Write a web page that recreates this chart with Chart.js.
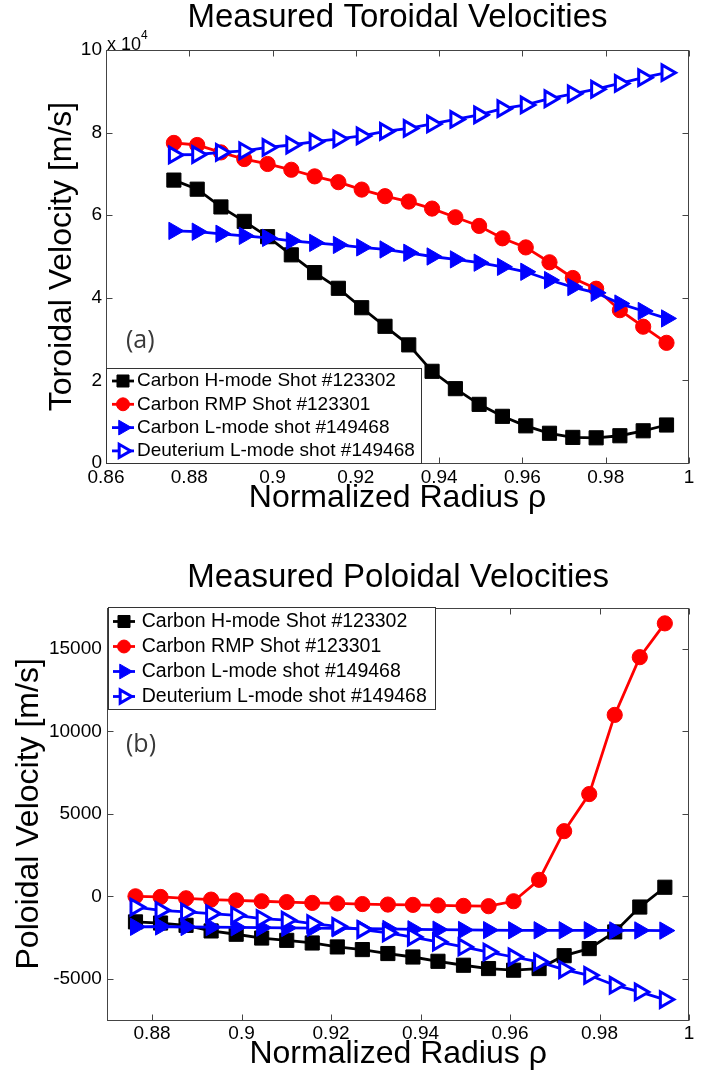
<!DOCTYPE html>
<html>
<head>
<meta charset="utf-8">
<title>Measured Toroidal and Poloidal Velocities</title>
<script src="https://cdn.jsdelivr.net/npm/chart.js@4.4.0/dist/chart.umd.min.js"></script>
<style>
  body { margin: 0; background: #fff; width: 701px; height: 1076px; overflow: hidden; }
  canvas { display: block; }
</style>
</head>
<body>
<canvas id="chart-toroidal" width="701" height="540"></canvas>
<canvas id="chart-poloidal" width="701" height="536"></canvas>
<script>
// normalized radius of the measurement points (shared by all series)
const radius = [0.8763, 0.8819, 0.8876, 0.8932, 0.8988, 0.9045, 0.9101, 0.9158, 0.9214, 0.9270, 0.9327,
                0.9383, 0.9439, 0.9496, 0.9552, 0.9608, 0.9665, 0.9721, 0.9777, 0.9834, 0.9890, 0.9946];

const seriesNames = ["Carbon H-mode Shot #123302", "Carbon RMP Shot #123301",
                     "Carbon L-mode shot #149468", "Deuterium L-mode shot #149468"];

// toroidal velocity [m/s]
const torCarbonH = [68500, 66300, 62000, 58500, 54800, 50400, 46100, 42300, 37600, 33100, 28600,
                    22200, 18000, 14200, 11300, 9000, 7200, 6200, 6100, 6600, 7800, 9200];
const torCarbonRMP = [77500, 77000, 75200, 73600, 72400, 71000, 69400, 68000, 66200, 64600, 63300,
                      61600, 59500, 57400, 54400, 52200, 48600, 44800, 42200, 37000, 33000, 29100];
const torCarbonL = [56200, 56000, 55500, 55000, 54500, 53800, 53300, 52800, 52200, 51700, 50900,
                    50000, 49300, 48500, 47500, 46300, 44300, 42600, 41200, 38600, 36800, 35000];
const torDeutL = [74600, 74700, 75200, 75600, 76400, 77000, 77800, 78500, 79200, 80300, 81000,
                  82100, 83200, 84300, 85800, 86700, 88200, 89400, 90500, 91900, 93300, 94500];

// poloidal velocity [m/s]
const polCarbonH = [-1550, -1620, -1760, -2100, -2300, -2530, -2670, -2830, -3070, -3230, -3470,
                    -3680, -3940, -4180, -4380, -4480, -4380, -3600, -3170, -2160, -650, 550];
const polCarbonRMP = [0, -40, -120, -200, -250, -300, -350, -400, -430, -470, -500,
                      -520, -550, -580, -600, -300, 1000, 3950, 6200, 11000, 14500, 16550];
const polCarbonL = [-1850, -1830, -1860, -1870, -1880, -1900, -1920, -1930, -1940, -1960, -1980,
                    -2000, -2020, -2040, -2050, -2060, -2060, -2060, -2060, -2070, -2070, -2080];
const polDeutL = [-650, -850, -950, -1050, -1150, -1350, -1450, -1650, -1820, -2020, -2220,
                  -2470, -2770, -3070, -3380, -3680, -3980, -4440, -4790, -5390, -5800, -6260];

// tick values
const torXTicks = [0.86, 0.88, 0.9, 0.92, 0.94, 0.96, 0.98, 1];
const torYTicks = [0, 20000, 40000, 60000, 80000, 100000];
const polXTicks = [0.88, 0.9, 0.92, 0.94, 0.96, 0.98, 1];
const polYTicks = [-5000, 0, 5000, 10000, 15000];

const FONT = "'Liberation Sans', Arial, Helvetica, sans-serif";

function series(label, values, color, style, r, fill, bw, order) {
    return {
        label: label,
        data: values.map((v, i) => ({ x: radius[i], y: v })),
        borderColor: color,
        backgroundColor: fill,
        borderWidth: 2.8,
        pointStyle: style,
        pointRadius: r,
        pointRotation: style === 'triangle' ? 90 : 0,
        pointBackgroundColor: fill,
        pointBorderColor: color,
        pointBorderWidth: bw,
        tension: 0,
        clip: false,
        order: order
    };
}

function makeDatasets(h, rmp, l, d) {
    return [
        series(seriesNames[0], h, '#000000', 'rect', 10, '#000000', 1, 3),
        series(seriesNames[1], rmp, '#ff0000', 'circle', 7.6, '#ff0000', 1, 2),
        series(seriesNames[2], l, '#0000ff', 'triangle', 10, '#0000ff', 1, 1),
        series(seriesNames[3], d, '#0000ff', 'triangle', 9, '#ffffff', 3, 0)
    ];
}

function drawMarker(ctx, ds, x, y, k) {
    const r = ds.pointRadius * k;
    ctx.save();
    ctx.fillStyle = ds.pointBackgroundColor;
    ctx.strokeStyle = ds.pointBorderColor;
    ctx.lineWidth = ds.pointBorderWidth;
    ctx.beginPath();
    if (ds.pointStyle === 'rect') {
        const s = r * Math.SQRT1_2;
        ctx.rect(x - s, y - s, 2 * s, 2 * s);
    } else if (ds.pointStyle === 'circle') {
        ctx.arc(x, y, r, 0, 2 * Math.PI);
    } else {
        ctx.moveTo(x + r, y);
        ctx.lineTo(x - r / 2, y + r * 0.866);
        ctx.lineTo(x - r / 2, y - r * 0.866);
        ctx.closePath();
    }
    ctx.fill();
    ctx.stroke();
    ctx.restore();
}

// matlab style box with inward ticks, boxed legend and free text labels
const matlabLook = {
    id: 'matlabLook',
    afterDatasetsDraw(chart, args, opts) {
        const ctx = chart.ctx;
        const a = chart.chartArea;
        const xs = chart.scales.x, ys = chart.scales.y;
        const L = Math.round(a.left) + 0.5, R = Math.round(a.right) - 0.5;
        const T = Math.round(a.top) + 0.5, B = Math.round(a.bottom) + 0.5;
        ctx.save();
        ctx.strokeStyle = '#444';
        ctx.lineWidth = 1;
        ctx.strokeRect(L, T, R - L, B - T);
        ctx.beginPath();
        xs.ticks.forEach(t => {
            const px = Math.round(xs.getPixelForValue(t.value)) + 0.5;
            ctx.moveTo(px, B); ctx.lineTo(px, B - 6);
            ctx.moveTo(px, T); ctx.lineTo(px, T + 6);
        });
        ys.ticks.forEach(t => {
            const py = Math.round(ys.getPixelForValue(t.value)) + 0.5;
            ctx.moveTo(L, py); ctx.lineTo(L + 6, py);
            ctx.moveTo(R, py); ctx.lineTo(R - 6, py);
        });
        ctx.stroke();

        // legend
        const lg = opts.legend;
        ctx.fillStyle = '#fff';
        ctx.fillRect(lg.x, lg.y, lg.w, lg.h);
        ctx.strokeStyle = '#333';
        ctx.strokeRect(lg.x + 0.5, lg.y + 0.5, lg.w - 1, lg.h - 1);
        ctx.font = lg.fontSize + 'px ' + FONT;
        ctx.textBaseline = 'middle';
        ctx.textAlign = 'left';
        chart.data.datasets.forEach((ds, i) => {
            const cy = lg.y + lg.first + i * lg.rowH;
            ctx.strokeStyle = ds.borderColor;
            ctx.lineWidth = 2.8;
            ctx.beginPath();
            ctx.moveTo(lg.mx - 11, cy);
            ctx.lineTo(lg.mx + 11, cy);
            ctx.stroke();
            drawMarker(ctx, ds, lg.mx, cy, 0.85);
            ctx.fillStyle = '#000';
            ctx.fillText(ds.label, lg.tx, cy);
        });

        // extra labels
        (opts.labels || []).forEach(t => {
            ctx.font = t.font;
            ctx.fillStyle = t.color;
            ctx.textBaseline = 'alphabetic';
            ctx.textAlign = 'left';
            ctx.fillText(t.text, t.x, t.y);
        });
        ctx.restore();
    }
};

function fmtRadius(v) {
    return String(Number(v.toFixed(2)));
}

// velocity chart with a fixed plot area
function buildChart(id, p) {
    return new Chart(document.getElementById(id), {
        type: 'line',
        data: { datasets: p.datasets },
        plugins: [matlabLook],
        options: {
            responsive: false,
            animation: false,
            events: [],
            layout: { padding: p.padding },
            scales: {
                x: {
                    type: 'linear',
                    min: p.xMin, max: 1.0,
                    afterBuildTicks: s => { s.ticks = p.xTicks.map(v => ({ value: v })); },
                    afterFit: s => { s.height = p.xHeight; s.paddingLeft = 0; s.paddingRight = 0; },
                    grid: { display: false, drawTicks: false },
                    border: { display: false },
                    ticks: {
                        padding: p.xPad, maxRotation: 0, autoSkip: false, color: '#000',
                        font: { family: FONT, size: 19 },
                        callback: v => fmtRadius(v)
                    },
                    title: {
                        display: true, text: 'Normalized Radius ρ', color: '#000',
                        font: { family: FONT, size: 32 },
                        padding: { top: 0, bottom: p.xTitlePad }
                    }
                },
                y: {
                    min: p.yMin, max: p.yMax,
                    afterBuildTicks: s => { s.ticks = p.yTicks.map(v => ({ value: v })); },
                    afterFit: s => { s.width = p.yWidth; s.paddingTop = 0; s.paddingBottom = 0; },
                    grid: { display: false, drawTicks: false },
                    border: { display: false },
                    ticks: {
                        padding: p.yPad, color: '#000',
                        font: { family: FONT, size: 19 },
                        callback: p.yFormat
                    },
                    title: {
                        display: true, text: p.yTitle, color: '#000',
                        font: { family: FONT, size: 32 },
                        padding: { top: p.yTitlePad, bottom: 0 }
                    }
                }
            },
            plugins: {
                legend: { display: false },
                tooltip: { enabled: false },
                title: {
                    display: true, text: p.title, color: '#000',
                    fullSize: false,
                    font: { family: FONT, size: 33, weight: 'normal', lineHeight: 1.1 },
                    padding: { top: 0, bottom: p.titlePad }
                },
                matlabLook: { legend: p.legend, labels: p.labels }
            }
        }
    });
}

buildChart('chart-toroidal', {
    datasets: makeDatasets(torCarbonH, torCarbonRMP, torCarbonL, torDeutL),
    padding: { top: 0, left: 0, right: 1, bottom: 0 },
    title: 'Measured Toroidal Velocities', titlePad: 13.7,
    xMin: 0.86, xTicks: torXTicks, xHeight: 77, xPad: 3, xTitlePad: 22.8,
    yMin: 0, yMax: 100000, yTicks: torYTicks, yWidth: 106, yPad: 4, yTitlePad: 42.8,
    yTitle: 'Toroidal Velocity [m/s]',
    yFormat: v => String(v / 10000),
    legend: { x: 106, y: 368, w: 316, h: 96, first: 13, rowH: 23.3, mx: 123, tx: 137, fontSize: 19 },
    labels: [
        { text: 'x 10', x: 107, y: 50, font: '18px ' + FONT, color: '#000' },
        { text: '4', x: 141, y: 39, font: '12px ' + FONT, color: '#000' },
        { text: '(a)', x: 126, y: 348, font: "25px 'Open Sans', sans-serif", color: '#3a3a3a' }
    ]
});

buildChart('chart-poloidal', {
    datasets: makeDatasets(polCarbonH, polCarbonRMP, polCarbonL, polDeutL),
    padding: { top: 19.4, left: 0, right: 0.5, bottom: 0 },
    title: 'Measured Poloidal Velocities', titlePad: 12,
    xMin: 0.87, xTicks: polXTicks, xHeight: 56, xPad: 2, xTitlePad: 2.8,
    yMin: -7500, yMax: 17500, yTicks: polYTicks, yWidth: 107.3, yPad: 5.5, yTitlePad: 9.8,
    yTitle: 'Poloidal Velocity [m/s]',
    yFormat: v => String(v),
    legend: { x: 108, y: 67, w: 328, h: 103, first: 14.5, rowH: 25, mx: 124, tx: 141.7, fontSize: 19.5 },
    labels: [
        { text: '(b)', x: 126, y: 212, font: "25px 'Open Sans', sans-serif", color: '#3a3a3a' }
    ]
});
</script>
</body>
</html>
